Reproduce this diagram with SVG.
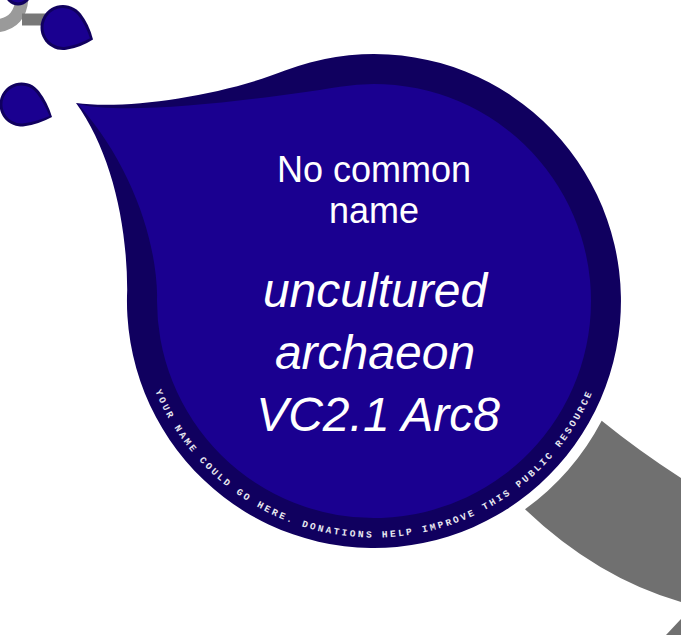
<svg xmlns="http://www.w3.org/2000/svg" width="681" height="635" viewBox="0 0 681 635">
  <defs>
    <style>
      .outer { fill: #10005f; }
      .inner { fill: #1a0090; }
      .branch { fill: none; }
      .common { font-family: "Liberation Sans", Arial, sans-serif; font-size: 36px; fill: #ffffff; text-anchor: middle; }
      .latin { font-family: "Liberation Sans", Arial, sans-serif; font-size: 48px; font-style: italic; fill: #ffffff; text-anchor: middle; }
      .ring { font-family: "Liberation Mono", "Courier New", monospace; font-size: 9.5px; font-weight: bold; letter-spacing: 2.5px; fill: #e8e8f0; }
    </style>
    <path id="ringPath" d="M 151.8,220.1 A 236.5 236.5 0 1 0 596.2,220.1"/>
  </defs>
  <rect width="681" height="635" fill="#ffffff"/>

  <g id="connectors">
    <path d="M -5,26 Q 22,24 22,-5" stroke="#9a9a9a" stroke-width="13" fill="none"/>
    <path d="M 22,19.5 L 46,19.5" stroke="#787878" stroke-width="12" fill="none"/>
    <path d="M 601.7,420.7 Q 638.6,450.6 681,478 L 681,602 Q 597,577.9 525,509.3 A 257 257 0 0 0 601.7,420.7 Z" fill="#707070"/>
    <path d="M 666,635 L 681,619 L 681,635 Z" fill="#707070"/>
  </g>

  <g id="leaf-top">
    <circle cx="18" cy="-8" r="13.5" class="outer"/>
    <circle cx="18" cy="-8" r="10.5" class="inner"/>
  </g>

  <g id="leaf-1">
    <path class="outer" d="M 80.7,13.6 A 22.5 22.5 0 1 0 66.2,49.8 Q 80.1,47.8 93,39.5 Q 89.3,24.6 80.7,13.6 Z"/>
    <path class="inner" d="M 78.3,15.45 A 19.5 19.5 0 1 0 65.8,46.8 Q 77.7,45.1 90,38.3 Q 85.7,24.9 78.3,15.45 Z"/>
  </g>

  <g id="leaf-2">
    <path class="outer" d="M 38.9,91 A 22 22 0 1 0 24.4,126.3 Q 38.3,124.4 52,117 Q 47.5,102.1 38.9,91 Z"/>
    <path class="inner" d="M 36.5,92.9 A 19 19 0 1 0 24,123.3 Q 35.9,121.7 49.5,116 Q 43.8,102.4 36.5,92.9 Z"/>
  </g>

  <g id="leaf-main">
    <path class="outer" d="M 76,103 C 126,110 219.7,96.1 285,70.6 A 247 247 0 1 1 127.2,290 C 127,220 110,150 76,103 Z"/>
    <path class="inner" d="M 78,104 C 125,116 251,100.8 340,86.7 A 217 217 0 1 1 157.1,295 C 156,240 132,165 78,104 Z"/>
    <text class="common" x="374" y="182">No common</text>
    <text class="common" x="374" y="223">name</text>
    <text class="latin" x="375" y="307">uncultured</text>
    <text class="latin" x="375" y="369">archaeon</text>
    <text class="latin" x="378" y="431">VC2.1 Arc8</text>
    <text class="ring"><textPath href="#ringPath" startOffset="50%" text-anchor="middle">YOUR NAME COULD GO HERE. DONATIONS HELP IMPROVE THIS PUBLIC RESOURCE</textPath></text>
  </g>
</svg>
